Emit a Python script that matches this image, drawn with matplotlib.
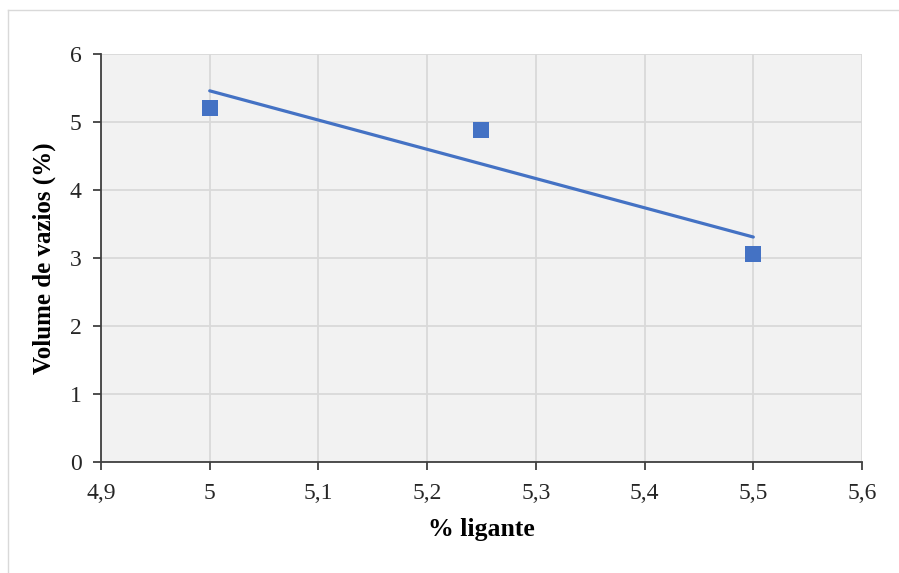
import numpy as np
import matplotlib.pyplot as plt
from matplotlib.lines import Line2D

# Binder content vs. air voids
ligante = [5.0, 5.25, 5.5]
vazios = [5.21, 4.88, 3.06]

x_ticks = [4.9, 5.0, 5.1, 5.2, 5.3, 5.4, 5.5, 5.6]
x_labels = ['4,9', '5', '5,1', '5,2', '5,3', '5,4', '5,5', '5,6']
y_ticks = [0, 1, 2, 3, 4, 5, 6]


def main():
    plt.rcParams['font.family'] = ['Liberation Serif', 'DejaVu Serif']

    fig = plt.figure(figsize=(8.99, 5.73), dpi=100)
    ax = fig.add_axes([101 / 899, 1 - 462 / 573, 761 / 899, 408 / 573])
    ax.set_facecolor('#f2f2f2')

    # chart frame (left and top edges only show in the image)
    W, H = 899, 573
    fig.add_artist(Line2D([8 / W, 8 / W], [0, 1 - 10 / H], transform=fig.transFigure,
                          color='#d9d9d9', lw=1))
    fig.add_artist(Line2D([8 / W, 1], [1 - 10 / H, 1 - 10 / H], transform=fig.transFigure,
                          color='#d9d9d9', lw=1))

    # linear trendline
    a, b = np.polyfit(ligante, vazios, 1)
    xt = np.array([ligante[0], ligante[-1]])
    ax.plot(xt, a * xt + b, color='#4472c4', lw=2.3, solid_capstyle='round', zorder=3)

    ax.plot(ligante, vazios, 's', color='#4472c4', markersize=11.5, markeredgewidth=0,
            zorder=4)

    ax.set_xlim(4.9, 5.6)
    ax.set_ylim(0, 6)
    ax.set_xticks(x_ticks)
    ax.set_xticklabels(x_labels)
    ax.set_yticks(y_ticks)
    ax.grid(True, color='#d9d9d9', lw=1.3)
    ax.set_axisbelow(True)

    for s in ['top', 'right']:
        ax.spines[s].set_visible(False)
    for s in ['left', 'bottom']:
        ax.spines[s].set_color('#404040')
        ax.spines[s].set_linewidth(1.3)
    ax.tick_params(axis='both', direction='out', length=6, width=1.3, color='#404040',
                   labelsize=17, labelcolor='#262626')
    ax.tick_params(axis='y', pad=8)
    ax.tick_params(axis='x', pad=9)

    ax.set_xlabel('% ligante', fontsize=18.5, fontweight='bold', labelpad=10)
    ax.set_ylabel('Volume de vazios (%)', fontsize=18, fontweight='bold', labelpad=10)

    fig.savefig('out.png', dpi=100)


if __name__ == "__main__":
    main()
